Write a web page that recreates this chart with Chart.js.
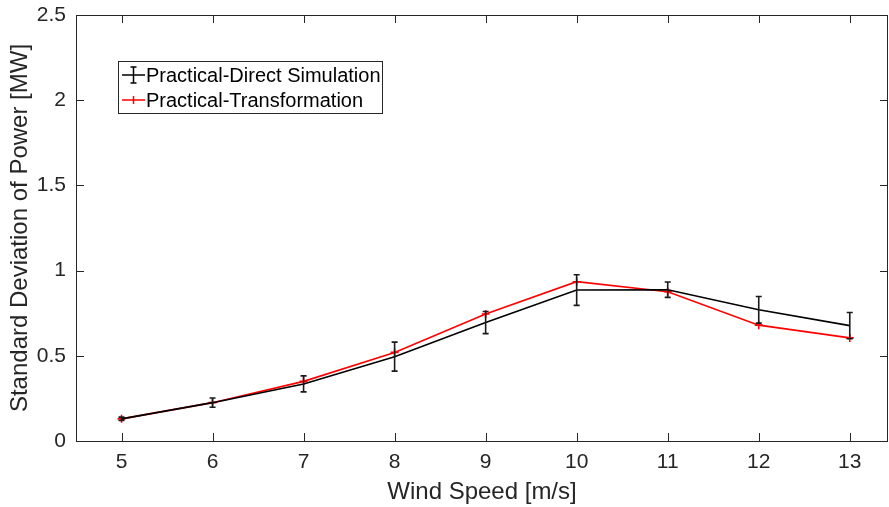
<!DOCTYPE html>
<html>
<head>
<meta charset="utf-8">
<script src="https://cdn.jsdelivr.net/npm/chart.js@4"></script>
<style>
  html, body { margin: 0; padding: 0; background: #fff; }
  #wrap { width: 889px; height: 507px; }
</style>
</head>
<body>
<div id="wrap"><canvas id="chart" width="889" height="507"></canvas></div>
<script>
    // wind speed bins [m/s]
    const windSpeed = [5, 6, 7, 8, 9, 10, 11, 12, 13];
    // standard deviation of power [MW]
    const directSim = [0.13, 0.225, 0.335, 0.495, 0.695, 0.886, 0.888, 0.77, 0.677];
    const directSimErr = [0.01, 0.027, 0.047, 0.085, 0.065, 0.09, 0.045, 0.078, 0.077];
    const transformation = [0.13, 0.225, 0.35, 0.52, 0.745, 0.935, 0.876, 0.68, 0.605];
    const yTicks = [0, 0.5, 1, 1.5, 2, 2.5];

    const axisColor = '#262626';
    const fontFamily = '"Liberation Sans", Arial, sans-serif';

    // error bars for the direct simulation series
    const errorBars = {
        id: 'errorBars',
        afterDatasetsDraw(chart) {
            const ctx = chart.ctx;
            const xs = chart.scales.x, ys = chart.scales.y;
            ctx.save();
            ctx.strokeStyle = '#1a1a1a';
            ctx.lineWidth = 1.6;
            windSpeed.forEach((w, i) => {
                const px = xs.getPixelForValue(w);
                const top = ys.getPixelForValue(directSim[i] + directSimErr[i]);
                const bot = ys.getPixelForValue(directSim[i] - directSimErr[i]);
                ctx.beginPath();
                ctx.moveTo(px, top); ctx.lineTo(px, bot);
                ctx.moveTo(px - 3, top); ctx.lineTo(px + 3, top);
                ctx.moveTo(px - 3, bot); ctx.lineTo(px + 3, bot);
                ctx.stroke();
            });
            ctx.restore();
        }
    };

    // box around the axes with inward ticks on all four sides, plus legend
    const axesBox = {
        id: 'axesBox',
        afterDraw(chart) {
            const ctx = chart.ctx;
            const a = chart.chartArea;
            const xs = chart.scales.x, ys = chart.scales.y;
            const len = 8;
            ctx.save();
            ctx.strokeStyle = axisColor;
            ctx.lineWidth = 1;
            ctx.strokeRect(Math.round(a.left) + 0.5, Math.round(a.top) + 0.5,
                Math.round(a.right - a.left) - 1, Math.round(a.bottom - a.top));
            ctx.beginPath();
            windSpeed.forEach(w => {
                const px = Math.round(xs.getPixelForValue(w)) + 0.5;
                ctx.moveTo(px, a.bottom); ctx.lineTo(px, a.bottom - len);
                ctx.moveTo(px, a.top); ctx.lineTo(px, a.top + len);
            });
            yTicks.forEach(v => {
                const py = Math.round(ys.getPixelForValue(v)) + 0.5;
                ctx.moveTo(a.left, py); ctx.lineTo(a.left + len, py);
                ctx.moveTo(a.right, py); ctx.lineTo(a.right - len, py);
            });
            ctx.stroke();

            // legend
            const lx = 118.5, ly = 61.5, lw = 264, lh = 52;
            ctx.fillStyle = '#fff';
            ctx.fillRect(lx, ly, lw, lh);
            ctx.strokeStyle = axisColor;
            ctx.strokeRect(lx, ly, lw, lh);
            ctx.font = '20px ' + fontFamily;
            ctx.textBaseline = 'middle';
            ctx.fillStyle = '#000';
            const rows = [75, 100];
            chart.data.datasets.forEach((ds, i) => {
                const y = rows[i];
                ctx.strokeStyle = ds.borderColor;
                ctx.lineWidth = 1.5;
                ctx.beginPath();
                ctx.moveTo(122, y); ctx.lineTo(145, y);
                if (i === 0) {
                    ctx.moveTo(133.5, y - 8); ctx.lineTo(133.5, y + 8);
                    ctx.moveTo(130.5, y - 8); ctx.lineTo(136.5, y - 8);
                    ctx.moveTo(130.5, y + 8); ctx.lineTo(136.5, y + 8);
                } else {
                    ctx.moveTo(133.5, y - 4); ctx.lineTo(133.5, y + 4);
                }
                ctx.stroke();
                ctx.fillText(ds.label, 146, y + 1);
            });
            ctx.restore();
        }
    };

    new Chart(document.getElementById('chart'), {
        type: 'line',
        data: {
            datasets: [
                {
                    label: 'Practical-Direct Simulation',
                    data: windSpeed.map((w, i) => ({ x: w, y: directSim[i] })),
                    borderColor: '#000000',
                    borderWidth: 1.6,
                    pointRadius: 0,
                    fill: false,
                },
                {
                    label: 'Practical-Transformation',
                    data: windSpeed.map((w, i) => ({ x: w, y: transformation[i] })),
                    borderColor: '#ff0000',
                    backgroundColor: '#ff0000',
                    borderWidth: 1.6,
                    pointStyle: 'cross',
                    pointRadius: 4,
                    pointBorderWidth: 1.6,
                    fill: false,
                },
            ],
        },
        options: {
            responsive: false,
            animation: false,
            layout: { autoPadding: false, padding: { left: 0, right: 1, top: 15, bottom: 0 } },
            plugins: {
                legend: { display: false },
                tooltip: { enabled: false },
            },
            scales: {
                x: {
                    type: 'linear',
                    min: 4.5,
                    max: 13.42,
                    afterBuildTicks: s => { s.ticks = windSpeed.map(v => ({ value: v })); },
                    afterFit: s => { s.height = 66; s.paddingLeft = 0; s.paddingRight = 0; },
                    grid: { display: false, drawTicks: false },
                    border: { display: false },
                    ticks: {
                        color: axisColor,
                        font: { family: fontFamily, size: 21 },
                        padding: 9,
                        maxRotation: 0,
                        callback: v => String(v),
                    },
                    title: {
                        display: true,
                        text: 'Wind Speed [m/s]',
                        color: axisColor,
                        font: { family: fontFamily, size: 24 },
                        padding: { top: 1, bottom: 0 },
                    },
                },
                y: {
                    min: 0,
                    max: 2.5,
                    afterBuildTicks: s => { s.ticks = yTicks.map(v => ({ value: v })); },
                    afterFit: s => { s.width = 76; s.paddingTop = 0; s.paddingBottom = 0; },
                    grid: { display: false, drawTicks: false },
                    border: { display: false },
                    ticks: {
                        color: axisColor,
                        font: { family: fontFamily, size: 21 },
                        padding: 10,
                        callback: v => String(v),
                    },
                    title: {
                        display: true,
                        text: 'Standard Deviation of Power [MW]',
                        color: axisColor,
                        font: { family: fontFamily, size: 24 },
                        padding: { top: 6, bottom: 0 },
                    },
                },
            },
        },
        plugins: [errorBars, axesBox],
    });
</script>
</body>
</html>
